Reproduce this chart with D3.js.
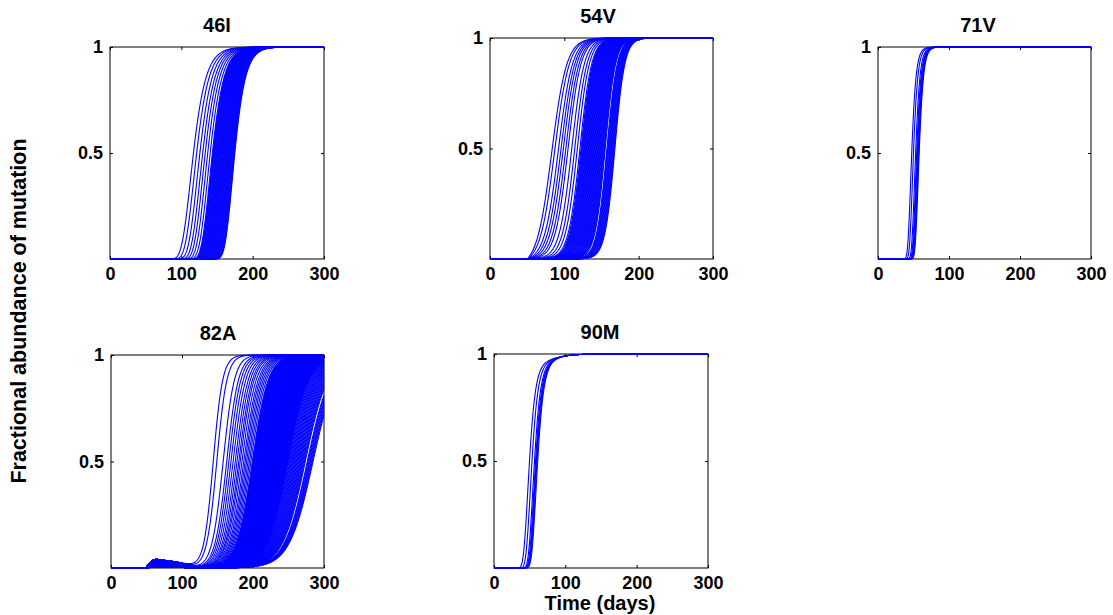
<!DOCTYPE html>
<html>
<head>
<meta charset="utf-8">
<script src="https://cdn.jsdelivr.net/npm/d3@7"></script>
<style>
  body { margin: 0; background: #fff; }
  svg text { font-family: "Liberation Sans", Arial, Helvetica, sans-serif; font-weight: bold; fill: #000; }
</style>
</head>
<body>
<svg id="fig" width="1113" height="615"></svg>
<script>
// ---- data ---------------------------------------------------------------
const mutations = ["46I", "54V", "71V", "82A", "90M"];
const timeTicks = [0, 100, 200, 300];
const abundanceTicks = [0.5, 1];
const timeDomain = [0, 300];

// Day at which each simulated trajectory reaches half abundance
const half46I = [117, 121.5, 126, 130, 133.5, 137, 140.5,
  143.5, 144.5, 145.3, 146.2, 147, 147.9, 148.8, 149.6, 150.5, 151.3, 152.2, 153, 153.9,
  154.7, 155.6, 156.4, 157.3, 158.1, 159, 159.8, 160.7, 161.5, 162.4, 163.2, 164.1, 164.9,
  165.8, 166.6, 167.5, 168.3, 169.2, 170, 170.9, 171.7, 172.6, 173.4, 174.3, 175];
const half54V = [83, 87, 92, 95.5, 98.6, 102, 105, 110, 114, 117.5, 121,
  122.5, 123.5, 124.4, 125.3, 126.2, 127.1, 128, 128.9, 129.8, 130.7,
  131.6, 132.5, 133.4, 134.3, 135.2, 136.1, 137, 137.9, 138.8, 139.7, 140.6, 141.5, 142.4,
  143.3, 144.2, 145.1, 146, 146.9, 147.8, 148.7, 149.6, 150.5, 151.4, 152.3, 153.2, 154.1,
  155, 157.3, 158.2, 159.1, 160, 160.9, 161.8, 162.7, 163.6, 164.5, 165.4, 166.3, 167.2, 168];
const half71V = [47.5, 50, 53, 54.5, 55.5, 56.5, 57.3, 58];
const half82A = [144, 149, 158, 163, 166, 169, 172, 175, 177.5, 180, 182, 184.5, 187, 189,
  191, 193, 195, 197, 199, 200, 200.6, 201.2, 201.8, 202.3, 202.9, 203.5, 204, 204.6, 205.2,
  205.8, 206.3, 206.9, 207.5, 208.1, 208.6, 209.2, 209.8, 210.4, 210.9, 211.5, 212.1, 212.7,
  213.2, 213.8, 214.4, 215, 215.5, 216.1, 216.7, 217.3, 217.8, 218.4, 219, 219.6, 220.1,
  220.7, 221.3, 221.9, 222.4, 223, 223.6, 224.2, 224.7, 225.3, 225.9, 226.5, 227, 227.6,
  228.2, 228.8, 229.3, 229.9, 230.5, 231.1, 231.6, 232.2, 232.8, 233.4, 233.9, 234.5,
  235.1, 235.7, 236.2, 236.8, 237.4, 238, 238.5, 239.1, 239.7, 240.3, 240.8, 241.4, 242,
  242.6, 243.1, 243.7, 244.3, 244.9, 245.4, 246, 246.6, 247.2, 247.7, 248.3, 248.9, 249.5,
  250.6, 251.8, 252.9, 254.1, 255.2, 256.4, 257.5, 258.7, 259.8, 261, 262.1, 263.3, 264.4,
  265.6, 266.7, 267.9, 269, 270.2, 271.3, 272.5, 273.6, 276.5, 277.6, 278.8, 279.9, 281.1,
  282.2, 283.4, 284.5];
const half90M = [49.5, 53, 56.5, 58, 59, 60, 61];

// Growth rate (1/day) of a trajectory, given at a few half-times
const rateDays46I = [117, 175], rateVals46I = [0.085, 0.1];
const rateDays54V = [83, 125, 168], rateVals54V = [0.1, 0.13, 0.15];
const rateDays71V = [47, 58], rateVals71V = [0.25, 0.25];
const rateDays82A = [144, 155, 185, 220, 285], rateVals82A = [0.15, 0.13, 0.1, 0.075, 0.06];
const rateDays90M = [50, 61], rateVals90M = [0.17, 0.17];

// Curve shape per panel (1 = logistic, small = Gompertz-like) and day the mutant appears
const shapeNu = [0.05, 1, 0.05, 1, 0.05];
const onsetDay = [null, 50, null, 49, null];

// 90M: slow final approach to fixation
const tailShare90M = 0.03, tailHalf90M = 90, tailRate90M = 0.07;

// 82A: early transient rise after day 49
const bumpDays82A = [49, 53, 58, 63, 70, 80, 90, 100, 110, 118, 128];
const bumpRel82A = [0, 0.45, 0.85, 1, 0.95, 0.82, 0.72, 0.55, 0.35, 0.18, 0];
const bumpLevels82A = [0.041, 0.037, 0.033, 0.028, 0.023, 0.018, 0.013, 0.008, 0.004];

// ---- layout -------------------------------------------------------------
const frames = [
  { l: 110, r: 324, t: 47,  b: 259, tx: 217 },
  { l: 490, r: 713, t: 38,  b: 259, tx: 598 },
  { l: 878, r: 1091, t: 47, b: 259, tx: 978 },
  { l: 111, r: 324, t: 355, b: 568, tx: 218 },
  { l: 494, r: 708, t: 354, b: 568, tx: 600 }
];

const halves = [half46I, half54V, half71V, half82A, half90M];
const rateScales = [
  [rateDays46I, rateVals46I], [rateDays54V, rateVals54V], [rateDays71V, rateVals71V],
  [rateDays82A, rateVals82A], [rateDays90M, rateVals90M]
].map(([d, v]) => d3.scaleLinear().domain(d).range(v).clamp(true));

const bumpShape = d3.scaleLinear().domain(bumpDays82A).range(bumpRel82A).clamp(true);
const days = d3.range(0, 300.001, 0.5);

// generalised logistic, parameterised by its half-time
function richards(t, half, k, nu) {
  const c = half + Math.log((Math.pow(2, nu) - 1) / nu) / k;
  return Math.pow(1 + nu * Math.exp(-k * (t - c)), -1 / nu);
}

function trajectory(p, half, i) {
  const k = rateScales[p](half);
  const nu = shapeNu[p];
  const t0 = onsetDay[p];
  const F0 = t0 == null ? 0 : richards(t0, half, k, nu);
  return days.map(t => {
    let f;
    if (t0 != null && t < t0) f = 0;
    else f = (richards(t, half, k, nu) - F0) / (1 - F0);
    if (mutations[p] === "90M") {
      f = (1 - tailShare90M) * f + tailShare90M * richards(t, tailHalf90M, tailRate90M, nu);
    }
    if (mutations[p] === "82A" && t >= bumpDays82A[0]) {
      f += bumpLevels82A[i % bumpLevels82A.length] * bumpShape(t);
    }
    return [t, Math.min(1, Math.max(0, f))];
  });
}

// ---- drawing ------------------------------------------------------------
const svg = d3.select("#fig");

mutations.forEach((name, p) => {
  const fr = frames[p];
  const x = d3.scaleLinear().domain(timeDomain).range([fr.l, fr.r]);
  const y = d3.scaleLinear().domain([0, 1]).range([fr.b, fr.t]);
  const g = svg.append("g");

  // box
  g.append("rect")
    .attr("x", fr.l).attr("y", fr.t)
    .attr("width", fr.r - fr.l).attr("height", fr.b - fr.t)
    .attr("fill", "none").attr("stroke", "#000").attr("stroke-width", 1);

  const styleAxis = sel => {
    sel.select(".domain").remove();
    sel.selectAll(".tick line").attr("stroke", "#000").attr("stroke-width", 1);
    sel.selectAll("text").attr("font-size", 18).attr("fill", "#000");
  };

  g.append("g").attr("transform", `translate(0,${fr.b})`)
    .call(d3.axisBottom(x).tickValues(timeTicks).tickSize(-3).tickPadding(8).tickFormat(d3.format("d")))
    .call(styleAxis);
  g.append("g").attr("transform", `translate(0,${fr.t})`)
    .call(d3.axisTop(x).tickValues(timeTicks).tickSize(-3).tickFormat(""))
    .call(styleAxis);
  g.append("g").attr("transform", `translate(${fr.l},0)`)
    .call(d3.axisLeft(y).tickValues(abundanceTicks).tickSize(-3).tickPadding(7).tickFormat(d => d === 1 ? "1" : "0.5"))
    .call(styleAxis);
  g.append("g").attr("transform", `translate(${fr.r},0)`)
    .call(d3.axisRight(y).tickValues(abundanceTicks).tickSize(-3).tickFormat(""))
    .call(styleAxis);

  // trajectories
  const line = d3.line().x(d => x(d[0])).y(d => y(d[1]));
  g.append("g").selectAll("path")
    .data(halves[p].map((h, i) => trajectory(p, h, i)))
    .join("path")
    .attr("d", line)
    .attr("fill", "none")
    .attr("stroke", "#0000ff")
    .attr("stroke-width", 1.1);

  // panel title
  g.append("text")
    .attr("x", fr.tx).attr("y", fr.t - 15)
    .attr("text-anchor", "middle")
    .attr("font-size", 20)
    .text(name);
});

svg.append("text")
  .attr("x", 600).attr("y", 610)
  .attr("text-anchor", "middle")
  .attr("font-size", 20)
  .text("Time (days)");

svg.append("text")
  .attr("transform", "translate(26,311) rotate(-90)")
  .attr("text-anchor", "middle")
  .attr("font-size", 21.5)
  .text("Fractional abundance of mutation");
</script>
</body>
</html>
